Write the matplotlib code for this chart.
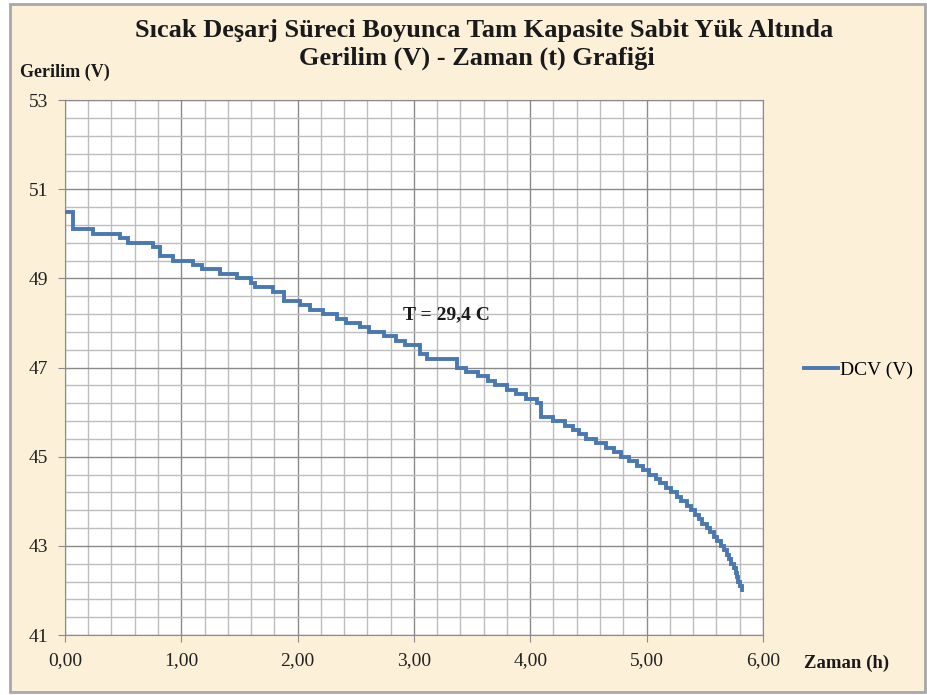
import matplotlib
matplotlib.use("Agg")
import matplotlib.pyplot as plt
from matplotlib.ticker import FuncFormatter
from matplotlib.patches import Rectangle
import numpy as np

# time (h) where each voltage step starts, and the voltage (V) of that step
zaman = [0.00, 0.07, 0.24, 0.47, 0.54, 0.76, 0.82, 0.93, 1.10, 1.18,
         1.33, 1.48, 1.60, 1.63, 1.79, 1.88, 2.02, 2.11, 2.22, 2.34,
         2.42, 2.54, 2.61, 2.74, 2.85, 2.92, 3.05, 3.11, 3.37, 3.45,
         3.55, 3.64, 3.70, 3.80, 3.88, 3.96, 4.06, 4.09, 4.20, 4.30,
         4.37, 4.42, 4.48, 4.57, 4.65, 4.72, 4.78, 4.85, 4.92, 4.97,
         5.02, 5.08, 5.12, 5.17, 5.21, 5.26, 5.30, 5.35, 5.38, 5.42,
         5.45, 5.48, 5.52, 5.55, 5.58, 5.61, 5.64, 5.67, 5.69, 5.71,
         5.73, 5.75, 5.77, 5.78, 5.79, 5.80, 5.82]
gerilim = [50.5, 50.1, 50.0, 49.9, 49.8, 49.7, 49.5, 49.4, 49.3, 49.2,
           49.1, 49.0, 48.9, 48.8, 48.7, 48.5, 48.4, 48.3, 48.2, 48.1,
           48.0, 47.9, 47.8, 47.7, 47.6, 47.5, 47.3, 47.2, 47.0, 46.9,
           46.8, 46.7, 46.6, 46.5, 46.4, 46.3, 46.2, 45.9, 45.8, 45.7,
           45.6, 45.5, 45.4, 45.3, 45.2, 45.1, 45.0, 44.9, 44.8, 44.7,
           44.6, 44.5, 44.4, 44.3, 44.2, 44.1, 44.0, 43.9, 43.8, 43.7,
           43.6, 43.5, 43.4, 43.3, 43.2, 43.1, 43.0, 42.9, 42.8, 42.7,
           42.6, 42.5, 42.4, 42.3, 42.2, 42.1, 42.0]

x_ticks = [0, 1, 2, 3, 4, 5, 6]
y_ticks = [41, 43, 45, 47, 49, 51, 53]

baslik_1 = "Sıcak Deşarj Süreci Boyunca Tam Kapasite Sabit Yük Altında"
baslik_2 = "Gerilim (V) - Zaman (t) Grafiği"
seri_adi = "DCV (V)"
not_metni = "T = 29,4 C"

plt.rcParams['font.family'] = ['Liberation Serif', 'DejaVu Serif']

bg = "#fcf0d8"
fig = plt.figure(figsize=(9.28, 6.95), dpi=100, facecolor="white")
fig.patches.append(Rectangle((0.011, 0.004), 0.986, 0.99, transform=fig.transFigure,
                             facecolor=bg, edgecolor="#a8a8a8", linewidth=2, zorder=-10))

ax = fig.add_axes([0.070, 0.0863, 0.752, 0.7697])
ax.set_facecolor("white")

ax.plot(zaman, gerilim, drawstyle="steps-post", color="#4a78b0", linewidth=2.8,
        solid_joinstyle="miter", label=seri_adi, zorder=3)

ax.set_xlim(0, 6)
ax.set_ylim(41, 53)
ax.set_xticks(x_ticks)
ax.set_yticks(y_ticks)
ax.set_xticks(np.arange(0, 6.01, 0.2), minor=True)
ax.set_yticks(np.arange(41, 53.01, 0.4), minor=True)
ax.xaxis.set_major_formatter(FuncFormatter(lambda v, p: "{:.2f}".format(v).replace(".", ",")))
ax.yaxis.set_major_formatter(FuncFormatter(lambda v, p: "{:.0f}".format(v)))

ax.grid(which="major", color="#8a8a8a", linewidth=1.0)
ax.grid(which="minor", color="#bdbdbd", linewidth=1.0)
ax.set_axisbelow(True)
for s in ax.spines.values():
    s.set_color("#8a8a8a")
ax.tick_params(which="major", direction="out", length=5, color="#8a8a8a",
               labelsize=14, labelcolor="#222222", pad=7)
ax.tick_params(which="minor", length=0)

fig.text(0.522, 1 - 31 / 695, baslik_1, ha="center", va="center", fontsize=19,
         fontweight="bold", color="#1a1a1a")
fig.text(0.514, 1 - 58 / 695, baslik_2, ha="center", va="center", fontsize=19,
         fontweight="bold", color="#1a1a1a")
fig.text(0.022, 1 - 72 / 695, "Gerilim (V)", ha="left", va="center", fontsize=13,
         fontweight="bold", color="#1a1a1a")
fig.text(804 / 928, 1 - 663 / 695, "Zaman (h)", ha="left", va="center", fontsize=13.5,
         fontweight="bold", color="#1a1a1a")
ax.text(3.28, 48.18, not_metni, ha="center", va="center", fontsize=14,
        fontweight="bold", color="#1a1a1a")

fig.legend(loc="center left", bbox_to_anchor=(804 / 928, 1 - 370 / 695), frameon=False,
           fontsize=14, handlelength=1.75, handletextpad=0.1, borderpad=0,
           borderaxespad=0)

fig.savefig("out.png", dpi=100, facecolor=fig.get_facecolor())
